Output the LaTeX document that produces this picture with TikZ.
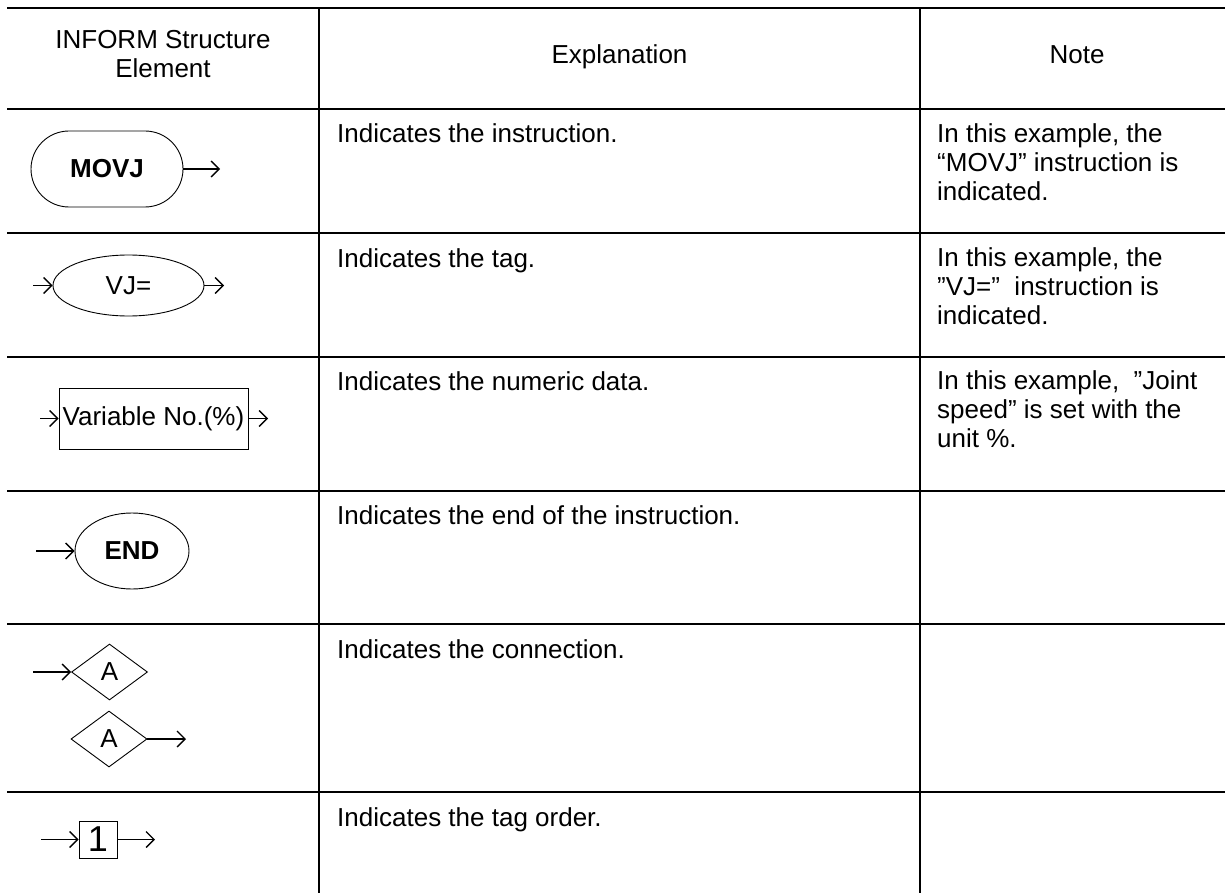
\documentclass[tikz,border=0pt]{standalone}
\usepackage{fontspec}
\setmainfont{Liberation Sans}
\usetikzlibrary{shapes.geometric,arrows.meta}
\begin{document}
\begin{tikzpicture}[x=1pt,y=-1pt,
  every node/.style={font=\fontsize{26}{29}\selectfont},
  thickrule/.style={line width=2.6pt},
  thinrule/.style={line width=1.4pt},
  shp/.style={draw,line width=0.9pt,inner sep=0pt},
  arr/.style={line width=1.3pt,-{Straight Barb[length=8pt,width=16pt,line width=1.3pt]}},
  txt/.style={anchor=base west,inner sep=0pt},
  multi/.style={anchor=north west,inner sep=0pt,align=left}]
\useasboundingbox (0,0) rectangle (1225,893);
% table rules
\draw[thickrule] (7,8) -- (1225,8);
\draw[thickrule] (7,109) -- (1225,109);
\foreach \y in {233,357,491,624,792} \draw[thinrule] (7,\y) -- (1225,\y);
\draw[thinrule] (319,8) -- (319,893);
\draw[thinrule] (920,8) -- (920,893);
% header
\node[align=center,inner sep=0pt,anchor=base] (h1) at (163,78) {INFORM Structure\\Element};
\node[anchor=base,inner sep=0pt] (h2) at (619.5,64) {Explanation};
\node[anchor=base,inner sep=0pt] (h3) at (1077,64) {Note};
% row 1
\node[shp,rectangle,rounded corners=38pt,minimum width=152pt,minimum height=76pt,font=\fontsize{26}{29}\selectfont\bfseries] (movj) at (107,169) {MOVJ};
\coordinate (movjout) at (220,169);
\draw[arr] (movj.east) -- (movjout);
\node[txt] (e1) at (337,143) {Indicates the instruction.};
\node[multi] (n1) at (937,123) {In this example, the\\“MOVJ\char34{} instruction is\\indicated.};
% row 2
\node[shp,ellipse,minimum width=151pt,minimum height=61pt] (vj) at (128.5,285.5) {VJ=};
\coordinate (vjin) at (33,285.5);
\coordinate (vjout) at (224,285.5);
\draw[arr] (vjin) -- (vj.west);
\draw[arr] (vj.east) -- (vjout);
\node[txt] (e2) at (337,267) {Indicates the tag.};
\node[multi] (n2) at (937,247) {In this example, the\\\char34 VJ=\char34\ \ instruction is\\indicated.};
% row 3
\node[shp,rectangle,minimum width=189pt,minimum height=61pt] (var) at (153.5,418.5) {Variable No.(\%)};
\coordinate (varin) at (40,418.5);
\coordinate (varout) at (268,418.5);
\draw[arr] (varin) -- (var.west);
\draw[arr] (var.east) -- (varout);
\node[txt] (e3) at (337,390) {Indicates the numeric data.};
\node[multi] (n3) at (937,370) {In this example,\ \ \char34 Joint\\speed\char34{} is set with the\\unit \%.};
% row 4
\node[shp,ellipse,minimum width=114pt,minimum height=76pt,font=\fontsize{26}{29}\selectfont\bfseries] (endn) at (132,551) {END};
\coordinate (endin) at (36,551);
\draw[arr] (endin) -- (endn.west);
\node[txt] (e4) at (337,524) {Indicates the end of the instruction.};
% row 5
\node[shp,diamond,minimum width=76pt,minimum height=56pt] (da) at (109.5,672) {A};
\coordinate (dain) at (33,672);
\draw[arr] (dain) -- (da.west);
\node[shp,diamond,minimum width=76pt,minimum height=56pt] (db) at (109,739) {A};
\coordinate (dbout) at (186,739);
\draw[arr] (db.east) -- (dbout);
\node[txt] (e5) at (337,658) {Indicates the connection.};
% row 6
\node[shp,rectangle,minimum width=38pt,minimum height=37pt,font=\fontsize{36}{40}\selectfont] (one) at (98,839.5) {1};
\coordinate (onein) at (41,839.5);
\coordinate (oneout) at (155,839.5);
\draw[arr] (onein) -- (one.west);
\draw[arr] (one.east) -- (oneout);
\node[txt] (e6) at (337,826) {Indicates the tag order.};
\end{tikzpicture}
\end{document}
